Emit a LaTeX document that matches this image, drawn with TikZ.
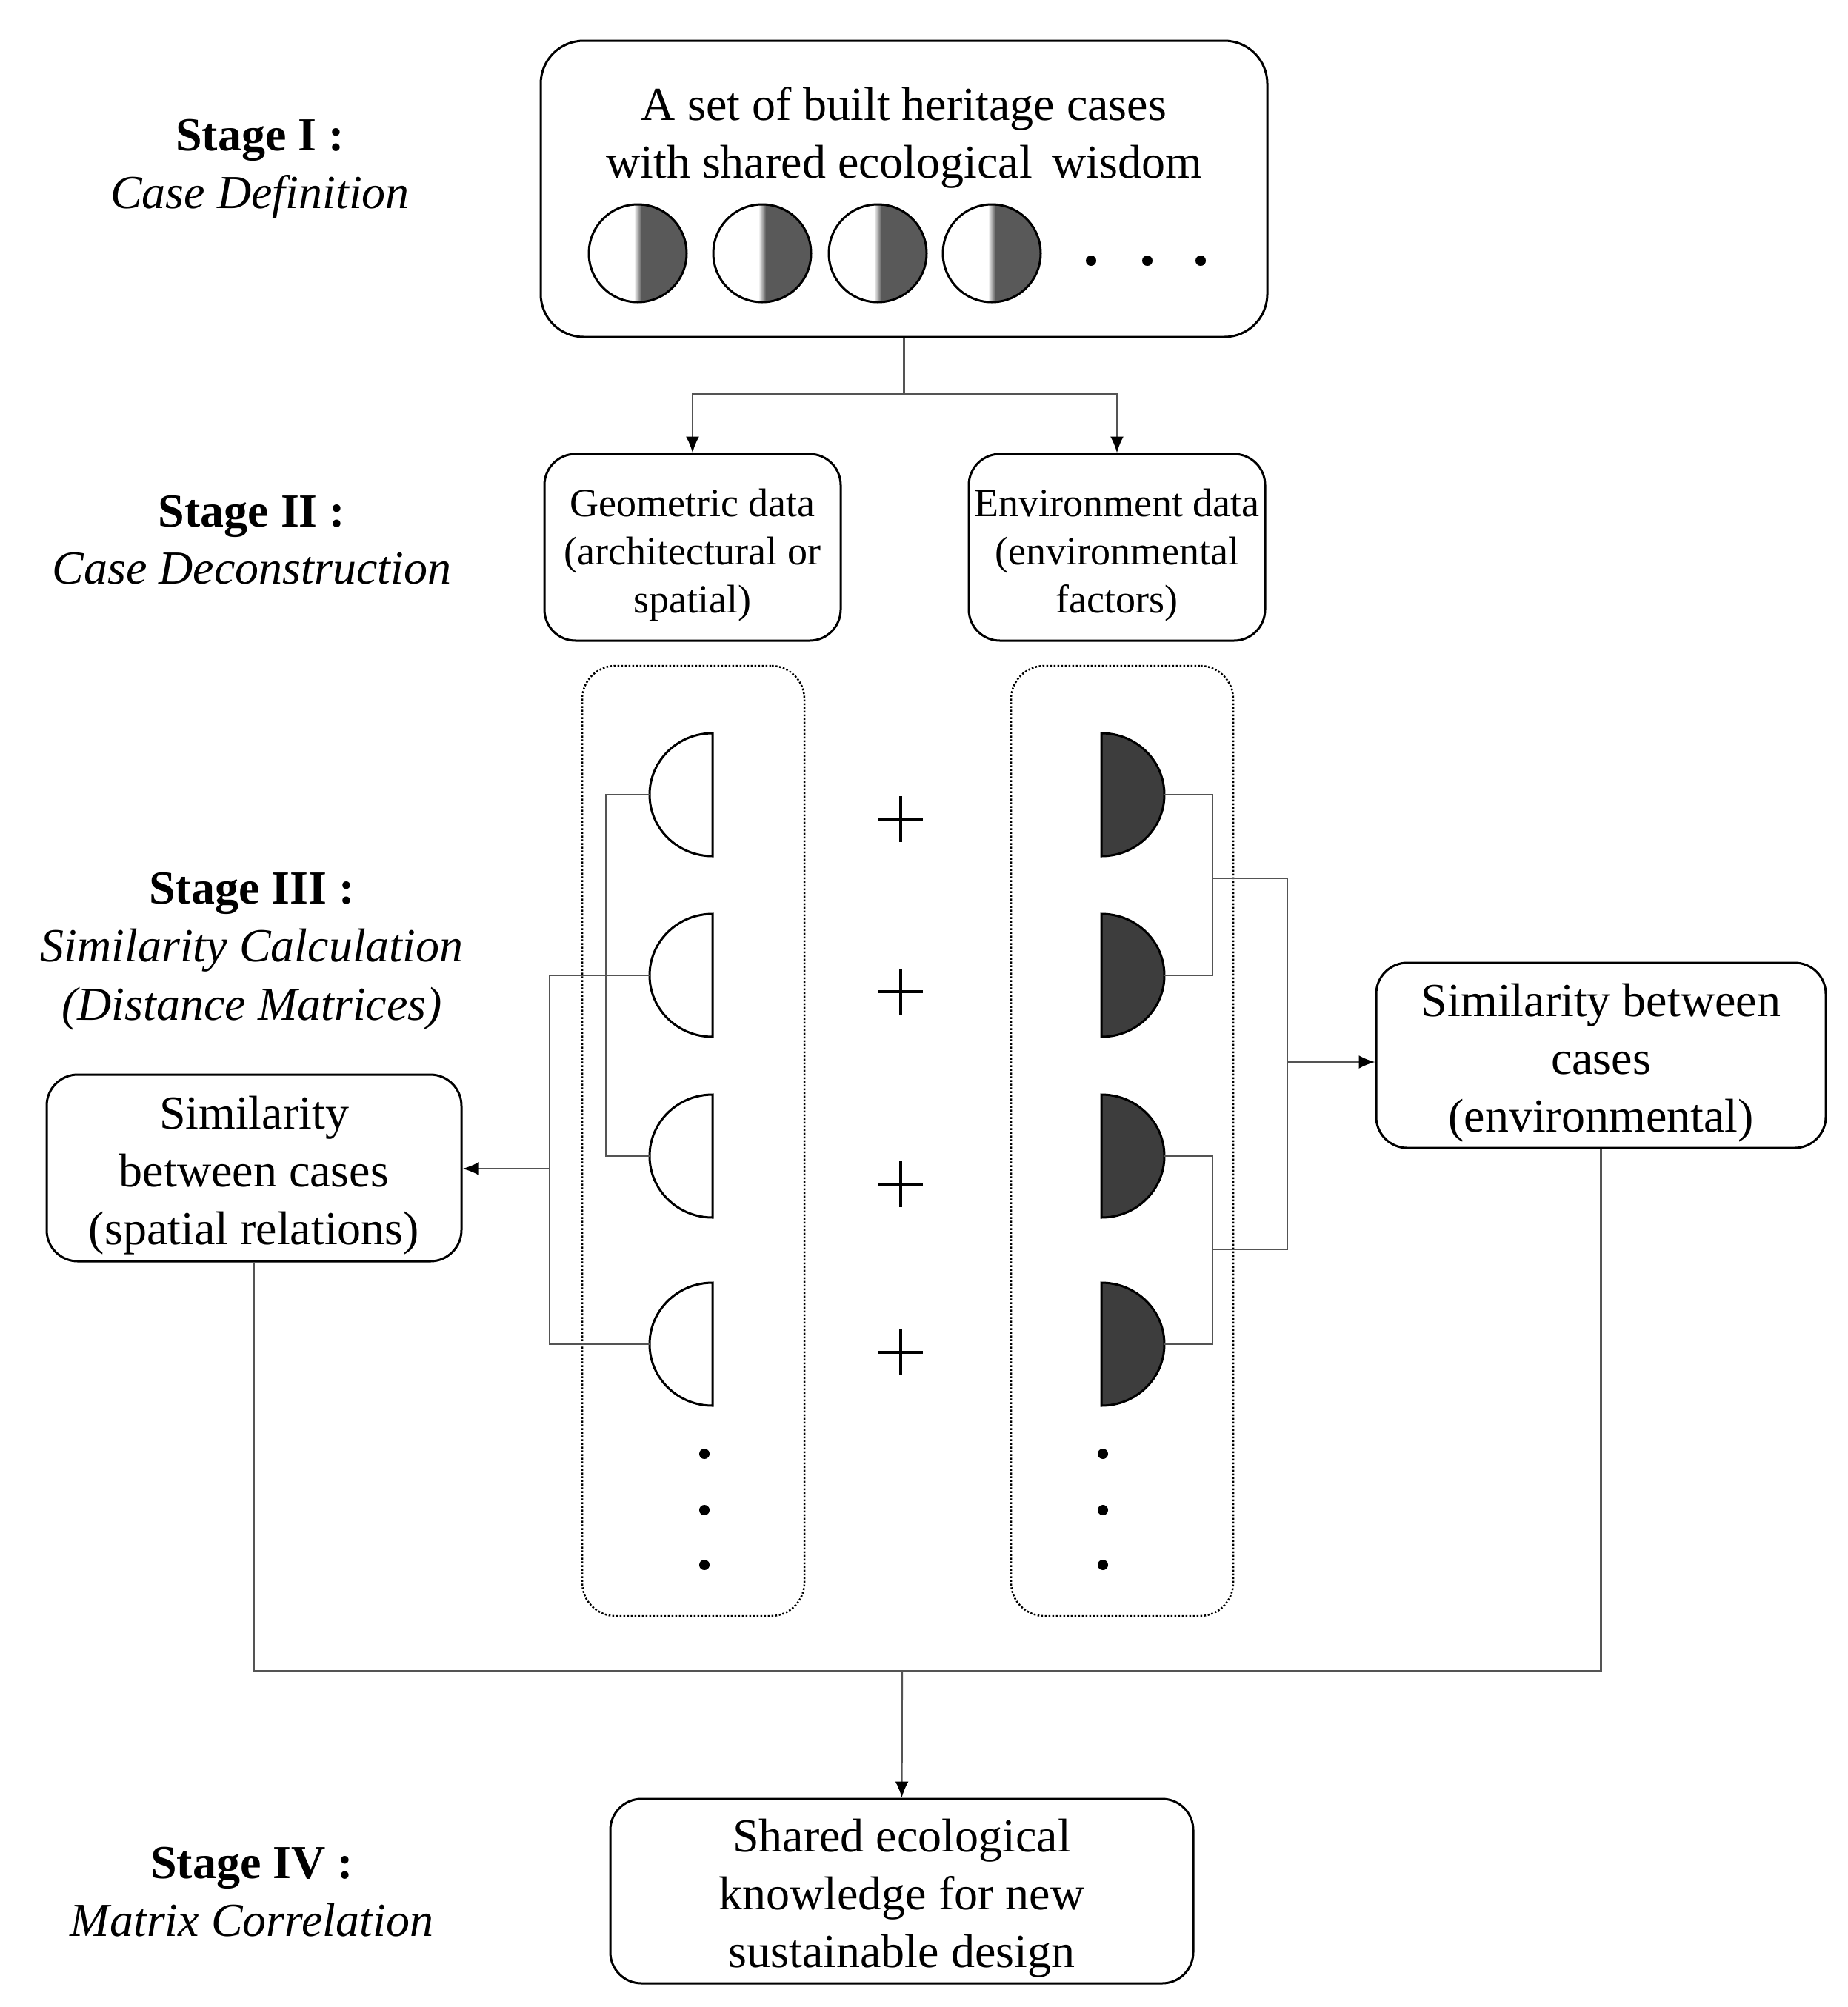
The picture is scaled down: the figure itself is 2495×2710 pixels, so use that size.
\documentclass[tikz,border=0pt]{standalone}
\usepackage{fontspec}
\setmainfont{Liberation Serif}
\usetikzlibrary{arrows.meta}
\definecolor{conncol}{gray}{0.33}
\definecolor{halfgray}{gray}{0.24}
\definecolor{cgray}{gray}{0.35}
\newcommand\mytopstrut[1]{\rule{0pt}{#1}}
\begin{document}
\begin{tikzpicture}[x=1pt,y=-1pt,
  box/.style={draw=black, line width=3pt, rounded corners=42pt, align=center, inner sep=0pt, font=\fontsize{64}{78}\selectfont},
  smallbox/.style={box, font=\fontsize{54}{65}\selectfont},
  dotbox/.style={draw=black, line width=2.5pt, dash pattern=on 2.5pt off 2.5pt, rounded corners=45pt, inner sep=0pt},
  conn/.style={draw=conncol, line width=2.2pt},
  arr/.style={conn, -{Latex[length=22pt,width=18pt,color=black]}},
  labb/.style={anchor=base, inner sep=0pt, font=\fontsize{64}{78}\selectfont\bfseries},
  labi/.style={anchor=base, inner sep=0pt, font=\fontsize{64}{78}\selectfont\itshape},
  half/.style={draw=black, line width=3pt},
]
\useasboundingbox (0,0) rectangle (2495,2710);
\fill[white] (0,0) rectangle (2495,2710);

% Stage labels
\node[labb] (s1a) at (351,203) {Stage I :};
\node[labi] (s1b) at (351,281) {Case Definition};
\node[labb] (s2a) at (340,711) {Stage II :};
\node[labi] (s2b) at (340,788) {Case Deconstruction};
\node[labb] (s3a) at (340,1220) {Stage III :};
\node[labi] (s3b) at (340,1298) {Similarity Calculation};
\node[labi] (s3c) at (340,1377) {(Distance Matrices)};
\node[labb] (s4a) at (340,2536) {Stage IV :};
\node[labi] (s4b) at (340,2614) {Matrix Correlation};

% Stage I box
\node[box, rounded corners=58pt, minimum width=981pt, minimum height=400pt] (top) at (1220.5,255) {};
\node[inner sep=0pt, align=center, font=\fontsize{64}{78}\selectfont] (toptext) at (1220.5,186)
  {A set of built heritage cases\\with shared ecological\hspace{10pt} wisdom};
\foreach \cx in {861,1029,1185,1339} {
  \begin{scope}
    \clip (\cx,342) circle[radius=66];
    \fill[white] (\cx-70,270) rectangle (\cx+70,414);
    \fill[cgray] (\cx+5,270) rectangle (\cx+70,414);
    \shade[left color=white, right color=cgray] (\cx-5,270) rectangle (\cx+5,414);
  \end{scope}
  \draw[line width=3pt] (\cx,342) circle[radius=66];
}
\foreach \dx in {1473,1549,1621} \fill (\dx,352) circle[radius=7];

% Stage II boxes
\node[smallbox, minimum width=400pt, minimum height=252pt] (geo) at (935,739)
  {\mytopstrut{58pt}Geometric data\\(architectural or\\spatial)};
\node[smallbox, minimum width=400pt, minimum height=252pt] (env) at (1508,739)
  {\mytopstrut{58pt}Environment data\\(environmental\\factors)};

\coordinate (split) at (1220.5,532);
\draw[conn] (top.south) -- (split);
\draw[arr] (split) -| (geo.north);
\draw[arr] (split) -| (env.north);

% dotted groups
\node[dotbox, minimum width=300pt, minimum height=1283pt] (gl) at (936,1540.5) {};
\node[dotbox, minimum width=300pt, minimum height=1283pt] (gr) at (1515,1540.5) {};

% half circles
\foreach \cy [count=\i] in {1073,1317,1561,1815} {
  \draw[half, fill=white] (962,\cy-83) arc[start angle=270, end angle=90, x radius=85, y radius=83] -- cycle;
  \draw[half, fill=halfgray] (1487,\cy-83) arc[start angle=-90, end angle=90, x radius=85, y radius=83] -- cycle;
  \coordinate (g\i) at (877,\cy);
  \coordinate (e\i) at (1572,\cy);
}
% plus signs
\foreach \py in {1106,1339,1599,1826}
  \draw[line width=4pt] (1186,\py) -- (1246,\py) (1216,\py-31) -- (1216,\py+31);
% vertical dots
\foreach \vy in {1963,2039,2113} {
  \fill (951,\vy) circle[radius=7];
  \fill (1489,\vy) circle[radius=7];
}

% Stage III result boxes
\node[box, minimum width=560pt, minimum height=252pt] (lsim) at (343,1577)
  {\mytopstrut{64pt}Similarity\\between cases\\(spatial relations)};
\node[box, minimum width=607pt, minimum height=250pt] (rsim) at (2161.5,1425)
  {\mytopstrut{64pt}Similarity between\\cases\\(environmental)};

% left tree
\draw[conn] (g1) -- ++(-59,0) |- (g3);
\draw[conn] (g2) -- ++(-135,0) |- (g4);
\coordinate (lj) at (742,1578);
\draw[arr] (lj) -- (lj -| lsim.east);

% right tree
\draw[conn] (e1) -- ++(65,0) |- (e2);
\draw[conn] (e3) -- ++(65,0) |- (e4);
\coordinate (ra) at (1637,1186);
\coordinate (rb) at (1637,1687);
\draw[conn] (ra) -| (1738,1687) -- (rb);
\coordinate (rj) at (1738,1434);
\draw[arr] (rj) -- (rj -| rsim.west);

% Stage IV
\node[box, minimum width=787pt, minimum height=249pt] (bot) at (1217.5,2553.5)
  {\mytopstrut{64pt}Shared ecological\\knowledge for new\\sustainable design};
\coordinate (merge) at (1218,2256);
\draw[conn] (lsim.south) |- (merge) -| (rsim.south);
\draw[arr] (merge) -- (bot.north);
\end{tikzpicture}
\end{document}
